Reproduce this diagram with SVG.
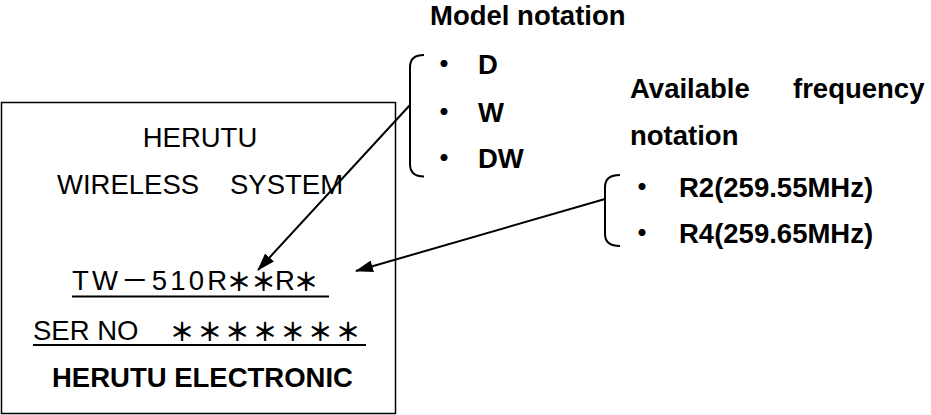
<svg xmlns="http://www.w3.org/2000/svg" width="931" height="415" viewBox="0 0 931 415">
<style>
  .t { font-family: "Liberation Sans", "Noto Sans CJK JP", sans-serif; font-size: 27.5px; fill: #000; }
  .b { font-family: "Liberation Sans", "Noto Sans CJK JP", sans-serif; font-size: 27.5px; font-weight: bold; fill: #000; }
  .dot { font-family: "Noto Sans CJK JP", sans-serif; font-size: 27.5px; font-weight: bold; fill: #000; text-anchor: middle; }
  .st { font-family: "Noto Sans CJK JP", sans-serif; font-size: 25px; font-weight: bold; fill: #000; }
  .ln { stroke: #000; stroke-width: 2; fill: none; }
</style>
<defs>
  <marker id="ah" viewBox="0 0 18 12" refX="17" refY="6" markerWidth="18" markerHeight="12" markerUnits="userSpaceOnUse" orient="auto">
    <path d="M0,0 L18,6 L0,12 z" fill="#000"/>
  </marker>
</defs>
<rect width="931" height="415" fill="#fff"/>

<g id="label-plate">
  <rect x="1.5" y="102.5" width="394" height="311" fill="none" stroke="#000" stroke-width="1.5"/>
  <text class="t" x="200" y="147" text-anchor="middle">HERUTU</text>
  <text class="t" x="57" y="194">WIRELESS</text>
  <text class="t" x="230" y="194">SYSTEM</text>
  <text class="t" x="72" y="290" textLength="155" lengthAdjust="spacing">TW－510R</text>
  <text class="st" x="239" y="291" text-anchor="middle">＊</text>
  <text class="st" x="263.5" y="291" text-anchor="middle">＊</text>
  <text class="t" x="275" y="290">R</text>
  <text class="st" x="306" y="291" text-anchor="middle">＊</text>
  <line class="ln" x1="72" y1="296.5" x2="329" y2="296.5"/>
  <text class="t" x="33" y="340">SER NO</text>
  <text class="st" x="169.5" y="341" textLength="191" lengthAdjust="spacing">＊＊＊＊＊＊＊</text>
  <line class="ln" x1="33" y1="345" x2="366" y2="345"/>
  <text class="b" x="52" y="387">HERUTU ELECTRONIC</text>
</g>

<g id="model-notation">
  <text class="b" x="430" y="25">Model notation</text>
  <path class="ln" d="M424,55 Q410,55 410,67 L410,164 Q410,176.5 424,176.5"/>
  <text class="dot" x="444" y="74">・</text>
  <text class="b" x="478" y="74">D</text>
  <text class="dot" x="444" y="122">・</text>
  <text class="b" x="478" y="122">W</text>
  <text class="dot" x="444" y="168">・</text>
  <text class="b" x="478" y="168">DW</text>
</g>

<g id="frequency-notation">
  <text class="b" x="630" y="98">Available</text>
  <text class="b" x="793" y="98">frequency</text>
  <text class="b" x="630" y="145">notation</text>
  <path class="ln" d="M620,175 Q605,175 605,187 L605,234 Q605,246 620,246"/>
  <text class="dot" x="642" y="197">・</text>
  <text class="b" x="679" y="197">R2(259.55MHz)</text>
  <text class="dot" x="642" y="243">・</text>
  <text class="b" x="679" y="243">R4(259.65MHz)</text>
</g>

<g id="connectors">
  <line class="ln" x1="410" y1="105" x2="258" y2="270" marker-end="url(#ah)"/>
  <line class="ln" x1="605" y1="199" x2="356" y2="271" marker-end="url(#ah)"/>
</g>
</svg>
